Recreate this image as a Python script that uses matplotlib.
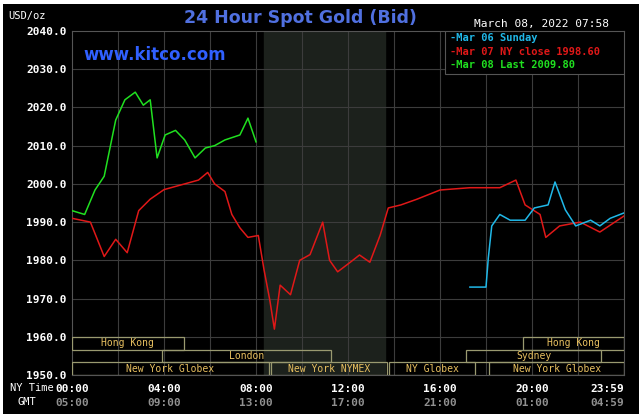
import matplotlib.pyplot as plt
import numpy as np
from matplotlib.patches import Rectangle

# hours (NY time), price
red_h = [0, 0.8, 1.4, 1.9, 2.4, 2.9, 3.4, 4.0, 4.9, 5.5, 5.9, 6.2, 6.65, 6.95, 7.3, 7.65, 8.1, 8.35, 8.6, 8.8, 9.05, 9.5, 9.9, 10.35, 10.9, 11.2, 11.55, 12.1, 12.5, 12.95, 13.4, 13.75, 14.3, 15.0, 16.0, 17.3, 18.6, 19.3, 19.7, 20.35, 20.6, 21.2, 22.1, 22.95, 23.6, 24.0]
red_v = [1991, 1990, 1981, 1985.5, 1982, 1993, 1996, 1998.5, 2000, 2001, 2003, 2000, 1998, 1992, 1988.5, 1986, 1986.5, 1977.5, 1969.6, 1962, 1973.5, 1971, 1980, 1981.5, 1990, 1980, 1977, 1979.5, 1981.4, 1979.5, 1986.6, 1993.7, 1994.5, 1996, 1998.4, 1999, 1999, 2001, 1994.5, 1992, 1986, 1989, 1990, 1987.4, 1990, 1991.6]
green_h = [0, 0.55, 1.0, 1.4, 1.9, 2.3, 2.75, 3.1, 3.4, 3.7, 4.05, 4.5, 4.9, 5.35, 5.8, 6.2, 6.65, 7.3, 7.65, 8.0]
green_v = [1993, 1992, 1998.4, 2002, 2016.7, 2022, 2024, 2020.6, 2022, 2006.8, 2012.8, 2014, 2011.5, 2006.8, 2009.4, 2010, 2011.5, 2012.8, 2017.2, 2011]
cyan_h = [17.3, 18.0, 18.1, 18.25, 18.6, 19.05, 19.7, 20.1, 20.7, 21.0, 21.45, 21.9, 22.55, 22.95, 23.4, 24.0]
cyan_v = [1973, 1973, 1980.6, 1989, 1992, 1990.5, 1990.5, 1993.7, 1994.5, 2000.5, 1993.2, 1989, 1990.5, 1989, 1991, 1992.4]

ny_ticks = ['00:00', '04:00', '08:00', '12:00', '16:00', '20:00', '23:59']
gmt_ticks = ['05:00', '09:00', '13:00', '17:00', '21:00', '01:00', '04:59']
sessions = [  # row, start, end, name
    (2, 0, 4.85, 'Hong Kong'), (2, 19.6, 24, 'Hong Kong'),
    (1, 3.9, 11.25, 'London'), (1, 17.15, 23.0, 'Sydney'),
    (0, 0, 8.55, 'New York Globex'), (0, 8.65, 13.7, 'New York NYMEX'),
    (0, 13.8, 17.5, 'NY Globex'), (0, 18.15, 24, 'New York Globex'),
]

mono = 'DejaVu Sans Mono'
fig = plt.figure(figsize=(6.43, 4.17), dpi=100, facecolor='white')
fig.patches.append(Rectangle((3/643, 3/417), 636/643, 410/417, transform=fig.transFigure,
                             facecolor='black', zorder=-1))
ax = fig.add_axes([72/643, 1 - 375/417, 552/643, 344/417])
ax.set_facecolor('black')
ax.set_xlim(0, 24)
ax.set_ylim(1950, 2040)

ax.axvspan(8.35, 13.6, color='#1c211c', zorder=0)
for y in np.arange(1960, 2040, 10):
    ax.axhline(y, color='#3c3c3c', lw=0.8, zorder=1)
for x in np.arange(2, 24, 2):
    ax.axvline(x, color='#3c3c3c', lw=0.8, zorder=1)

rh = 10 / 3
for row, s, e, name in sessions:
    y0 = 1950 + row * rh
    ax.add_patch(Rectangle((s, y0), e - s, rh, facecolor='none', edgecolor='#9a9a70', lw=0.9, zorder=3))
    ax.text((s + e) / 2, y0 + rh / 2, name, color='#e8c060', family=mono, fontsize=7,
            ha='center', va='center', zorder=4)

ax.plot(red_h, red_v, color='#e01818', lw=1.1, zorder=5)
ax.plot(green_h, green_v, color='#20e020', lw=1.1, zorder=5)
ax.plot(cyan_h, cyan_v, color='#20b8e8', lw=1.1, zorder=5)

for sp in ax.spines.values():
    sp.set_color('#555555')
ax.set_yticks(np.arange(1950, 2041, 10))
ax.set_yticklabels([f'{v:.1f}' for v in np.arange(1950, 2041, 10)], family=mono, fontsize=8,
                   color='white', fontweight='bold')
ax.set_xticks([0, 4, 8, 12, 16, 20, 24])
ax.set_xticklabels([])
ax.tick_params(length=0, pad=4)
for i, (a, b) in enumerate(zip(ny_ticks, gmt_ticks)):
    ha = 'center' if i < 6 else 'right'
    ax.text(i * 4, -0.04, a, transform=ax.get_xaxis_transform(), ha=ha, va='center',
            family=mono, fontsize=8, color='white', fontweight='bold')
    ax.text(i * 4, -0.08, b, transform=ax.get_xaxis_transform(), ha=ha, va='center',
            family=mono, fontsize=8, color='#909090', fontweight='bold')
fig.text(10/643, 1 - 388/417, 'NY Time', family=mono, fontsize=7.5, color='white', va='center')
fig.text(18/643, 1 - 402/417, 'GMT', family=mono, fontsize=7.5, color='white', va='center')

fig.text(8/643, 1 - 16/417, 'USD/oz', family=mono, fontsize=7.5, color='white', va='center')
fig.text(300/643, 1 - 18/417, '24 Hour Spot Gold (Bid)', color='#5070e0', fontsize=12.5,
         fontweight='bold', ha='center', va='center')
fig.text(474/643, 1 - 24/417, 'March 08, 2022 07:58', family=mono, fontsize=8, color='white',
         va='center')
ax.text(0.02, 0.93, 'www.kitco.com', transform=ax.transAxes, color='#3060ff', fontsize=12,
        fontweight='bold', va='center')

ax.add_patch(Rectangle((0.675, 0.874), 0.325, 0.126, transform=ax.transAxes, facecolor='black',
                       edgecolor='#555555', lw=0.8, zorder=6))
leg = [('-Mar 06 Sunday', '#20b8e8'), ('-Mar 07 NY close 1998.60', '#e01818'),
       ('-Mar 08 Last 2009.80', '#20e020')]
for i, (t, c) in enumerate(leg):
    ax.text(0.685, 0.98 - i * 0.04, t, transform=ax.transAxes, color=c, family=mono, fontsize=7.5,
            fontweight='bold', va='center', zorder=7)

fig.savefig('out.png', dpi=100, facecolor=fig.get_facecolor())
